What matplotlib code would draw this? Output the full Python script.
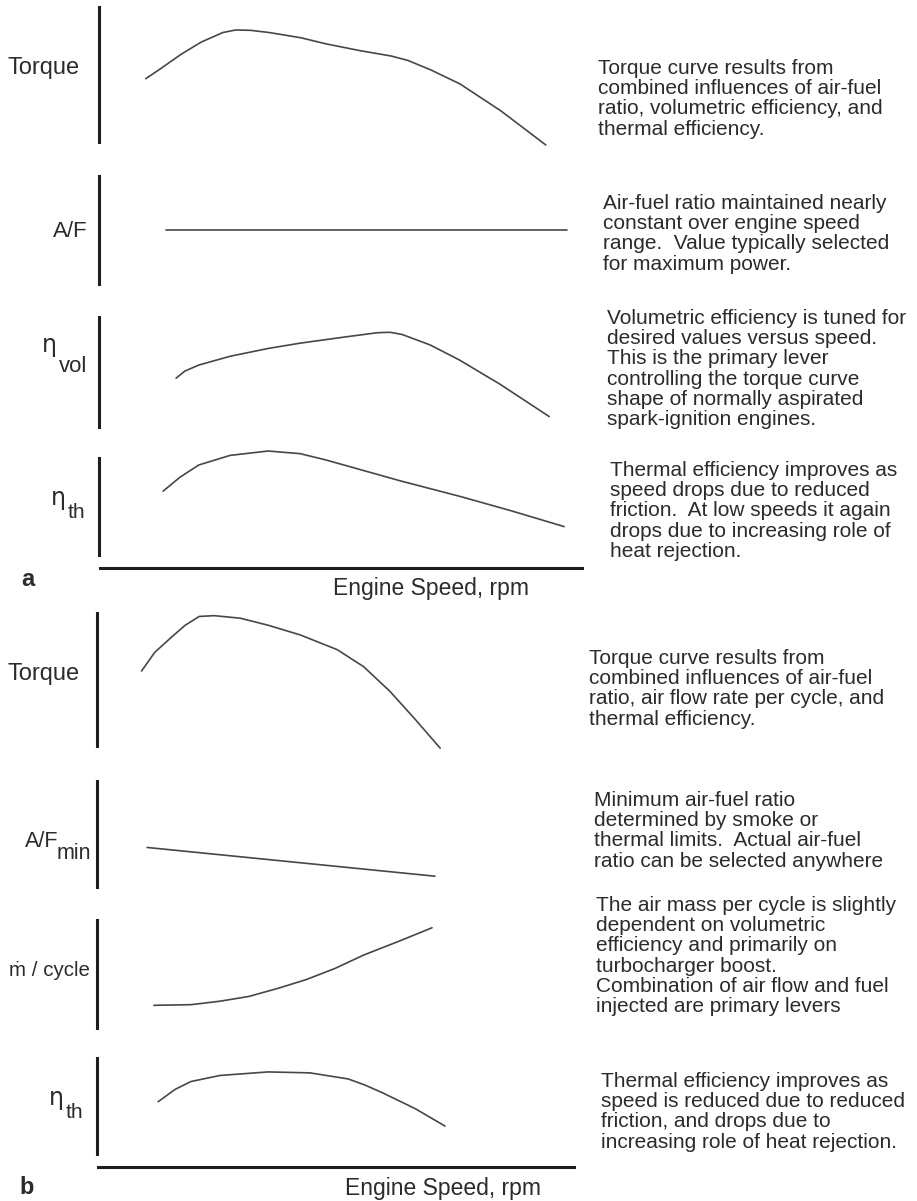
import matplotlib
matplotlib.use("Agg")
import matplotlib.pyplot as plt

plt.rcParams['font.family'] = ['Liberation Sans', 'DejaVu Sans']

# ---------------- data (schematic, speed & value in % of panel range) -------------
# Part a: spark-ignition engine
a_torque_speed = [9.7, 12.9, 17.0, 21.2, 25.7, 28.4, 31.5, 35.3, 41.9, 47.1, 54.4, 60.6, 64.1, 68.9, 74.9, 83.4, 92.7]
a_torque_value = [46.9, 54.6, 64.9, 74.0, 81.1, 83.0, 82.7, 81.1, 77.2, 72.7, 67.5, 63.7, 60.4, 53.3, 43.0, 23.0, -2.2]

a_af_speed = [13.8, 97.1]
a_af_value = [50.0, 50.0]

a_vol_speed = [16.0, 17.8, 20.7, 27.2, 35.1, 41.7, 50.8, 57.7, 60.4, 62.9, 68.7, 74.7, 83.2, 93.4]
a_vol_value = [44.4, 50.8, 56.3, 64.3, 71.4, 76.2, 81.7, 85.7, 86.1, 84.1, 74.6, 61.1, 38.9, 9.5]

a_th_speed = [13.3, 16.8, 20.7, 27.2, 35.1, 41.7, 46.9, 50.8, 62.4, 74.9, 85.3, 96.5]
a_th_value = [65.8, 80.2, 92.8, 102.7, 107.2, 104.5, 98.2, 92.8, 76.6, 60.4, 45.9, 29.3]

# Part b: compression-ignition (diesel) engine
b_torque_speed = [9.25, 12.0, 15.6, 18.3, 21.2, 24.3, 29.7, 35.5, 42.1, 49.8, 55.3, 60.8, 66.0, 71.2]
b_torque_value = [56.4, 70.5, 82.3, 90.8, 97.4, 98.0, 96.1, 90.8, 83.6, 72.5, 59.7, 41.0, 20.1, -1.6]

b_afmin_speed = [10.4, 70.1]
b_afmin_value = [37.3, 10.2]

b_mdot_speed = [11.8, 19.5, 25.5, 31.5, 37.6, 43.4, 49.4, 55.3, 62.9, 69.5]
b_mdot_value = [21.0, 21.6, 24.8, 29.2, 36.8, 44.8, 55.2, 67.5, 80.8, 92.8]

b_th_speed = [12.7, 16.2, 19.5, 25.5, 35.5, 44.2, 52.1, 55.6, 59.3, 66.0, 72.2]
b_th_value = [54.5, 67.3, 75.5, 81.8, 85.5, 84.5, 78.2, 71.8, 63.6, 47.3, 29.1]

a_notes = [
    "Torque curve results from\ncombined influences of air-fuel\nratio, volumetric efficiency, and\nthermal efficiency.",
    "Air-fuel ratio maintained nearly\nconstant over engine speed\nrange.  Value typically selected\nfor maximum power.",
    "Volumetric efficiency is tuned for\ndesired values versus speed.\nThis is the primary lever\ncontrolling the torque curve\nshape of normally aspirated\nspark-ignition engines.",
    "Thermal efficiency improves as\nspeed drops due to reduced\nfriction.  At low speeds it again\ndrops due to increasing role of\nheat rejection.",
]
b_notes = [
    "Torque curve results from\ncombined influences of air-fuel\nratio, air flow rate per cycle, and\nthermal efficiency.",
    "Minimum air-fuel ratio\ndetermined by smoke or\nthermal limits.  Actual air-fuel\nratio can be selected anywhere",
    "The air mass per cycle is slightly\ndependent on volumetric\nefficiency and primarily on\nturbocharger boost.\nCombination of air flow and fuel\ninjected are primary levers",
    "Thermal efficiency improves as\nspeed is reduced due to reduced\nfriction, and drops due to\nincreasing role of heat rejection.",
]
xlabel = "Engine Speed, rpm"

# ---------------- layout (pixels) ----------------
W, H = 917, 1201
fig = plt.figure(figsize=(W / 100, H / 100), dpi=100)
bg = fig.add_axes([0, 0, 1, 1])
bg.set_xlim(0, W)
bg.set_ylim(H, 0)
bg.axis('off')

BAR = '#1e1e1e'
CURVE = '#474747'
TXT = '#2b2b2b'
PANEL_W = 482


def panel(left, top, bottom, xs, ys):
    ax = fig.add_axes([left / W, 1 - bottom / H, PANEL_W / W, (bottom - top) / H])
    ax.patch.set_alpha(0)
    ax.set_xlim(0, 100)
    ax.set_ylim(0, 100)
    for s in ['top', 'right', 'bottom']:
        ax.spines[s].set_visible(False)
    ax.spines['left'].set_linewidth(2.2)
    ax.spines['left'].set_color(BAR)
    ax.set_xticks([])
    ax.set_yticks([])
    ax.plot(xs, ys, color=CURVE, lw=1.2, clip_on=False,
            solid_capstyle='round', solid_joinstyle='round')
    return ax


def speed_axis(left, right, y, lx, ly):
    ax = fig.add_axes([left / W, 1 - y / H, (right - left) / W, 0.001])
    ax.patch.set_alpha(0)
    for s in ['top', 'right', 'left']:
        ax.spines[s].set_visible(False)
    ax.spines['bottom'].set_linewidth(2.2)
    ax.spines['bottom'].set_color(BAR)
    ax.set_xticks([])
    ax.set_yticks([])
    bg.text(lx, ly, xlabel, fontsize=16.5, color=TXT, ha='center', va='center')


# Part a panels
panel(99, 7, 142, a_torque_speed, a_torque_value)
panel(99, 176, 284, a_af_speed, a_af_value)
panel(99, 317, 427, a_vol_speed, a_vol_value)
panel(99, 458, 555, a_th_speed, a_th_value)
speed_axis(100, 582, 568, 431, 589)
bg.text(21, 580, "a", fontsize=17, fontweight='bold', color=TXT, ha='left', va='center')

# Part b panels
panel(97, 613, 746, b_torque_speed, b_torque_value)
panel(97, 781, 887, b_afmin_speed, b_afmin_value)
panel(97, 920, 1028, b_mdot_speed, b_mdot_value)
panel(97, 1058, 1154, b_th_speed, b_th_value)
speed_axis(98, 574, 1167, 443, 1189)
bg.text(19, 1187, "b", fontsize=17, fontweight='bold', color=TXT, ha='left', va='center')

# Left labels
bg.text(7, 68, "Torque", fontsize=17, color=TXT, ha='left', va='center')
bg.text(88, 237, "A/F", fontsize=16, color=TXT, ha='right', va='baseline')
bg.text(42, 352, "η", fontsize=17, color=TXT, ha='left', va='baseline', family='DejaVu Sans')
bg.text(59, 372, "vol", fontsize=16, color=TXT, ha='left', va='baseline')
bg.text(51, 505, "η", fontsize=17, color=TXT, ha='left', va='baseline', family='DejaVu Sans')
bg.text(68, 518, "th", fontsize=15, color=TXT, ha='left', va='baseline')

bg.text(7, 674, "Torque", fontsize=17, color=TXT, ha='left', va='center')
bg.text(25, 847, "A/F", fontsize=15.5, color=TXT, ha='left', va='baseline')
bg.text(57, 859, "min", fontsize=15.5, color=TXT, ha='left', va='baseline')
bg.text(9, 970, "ṁ / cycle", fontsize=14.8, color=TXT, ha='left', va='center')
bg.text(49, 1105, "η", fontsize=17, color=TXT, ha='left', va='baseline', family='DejaVu Sans')
bg.text(66, 1118, "th", fontsize=15, color=TXT, ha='left', va='baseline')

# Right-hand notes (left x, first-line centre y)
a_note_pos = [(598, 66), (603, 201), (607, 316), (610, 468)]
b_note_pos = [(589, 656), (594, 798), (596, 903), (601, 1079)]
for (x, y), s in zip(a_note_pos + b_note_pos, a_notes + b_notes):
    bg.text(x, y - 7, s, fontsize=15, color=TXT, ha='left', va='top', linespacing=1.08)

fig.savefig("out.png", dpi=100)
